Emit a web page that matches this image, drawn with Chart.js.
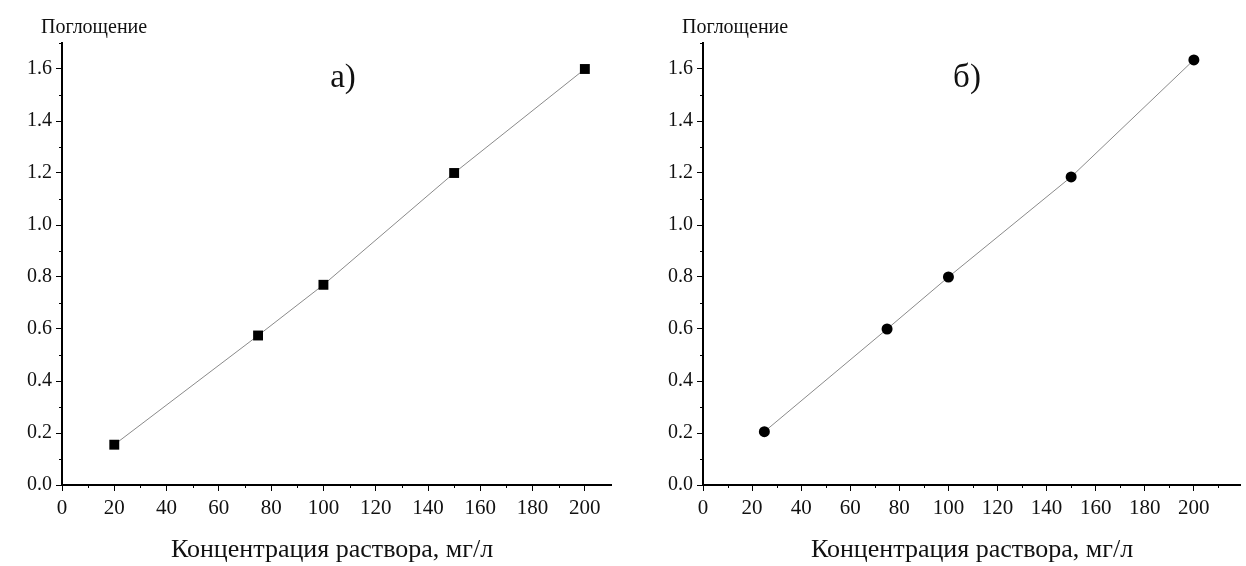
<!DOCTYPE html>
<html>
<head>
<meta charset="utf-8">
<script src="https://cdn.jsdelivr.net/npm/chart.js@4.4.1/dist/chart.umd.min.js"></script>
<style>
  html, body { margin: 0; padding: 0; background: #fff; }
  #wrap { position: relative; width: 1246px; height: 566px; }
  .panel { position: absolute; top: 0; height: 566px; }
  #pa { left: 0; width: 623px; }
  #pb { left: 623px; width: 623px; }
</style>
</head>
<body>
<div id="wrap">
  <div class="panel" id="pa"><canvas id="ca"></canvas></div>
  <div class="panel" id="pb"><canvas id="cb"></canvas></div>
</div>
<script>
// Calibration data: absorbance vs. solution concentration
const concA = [20, 75, 100, 150, 200];
const absA  = [0.155, 0.575, 0.77, 1.2, 1.6];
const concB = [25, 75, 100, 150, 200];
const absB  = [0.205, 0.6, 0.8, 1.185, 1.635];

const panelLabels = ['а)', 'б)'];
const yTitle = 'Поглощение';
const xTitle = 'Концентрация раствора, мг/л';

const SERIF = '"Liberation Serif", "DejaVu Serif", serif';

// Minor ticks, panel letter and axis titles
const decorPlugin = {
  id: 'decor',
  afterDraw(chart, args, opts) {
    const ctx = chart.ctx;
    const { left, right, top, bottom } = chart.chartArea;
    const xs = chart.scales.x, ys = chart.scales.y;
    ctx.save();
    ctx.strokeStyle = '#000';
    ctx.lineWidth = 1;
    // minor y ticks (every 0.1)
    for (let v = 0.1; v < ys.max; v += 0.2) {
      const py = Math.round(ys.getPixelForValue(v)) + 0.5;
      ctx.beginPath(); ctx.moveTo(left - 3, py); ctx.lineTo(left, py); ctx.stroke();
    }
    // minor x ticks (every 10)
    for (let v = 10; v < xs.max; v += 20) {
      const px = Math.round(xs.getPixelForValue(v)) + 0.5;
      ctx.beginPath(); ctx.moveTo(px, bottom); ctx.lineTo(px, bottom + 3); ctx.stroke();
    }
    ctx.fillStyle = '#111';
    // y title above the axis
    ctx.font = '20px ' + SERIF;
    ctx.textAlign = 'left';
    ctx.textBaseline = 'alphabetic';
    ctx.fillText(yTitle, left - 21, 33);
    // x title
    ctx.font = '26px ' + SERIF;
    ctx.textAlign = 'center';
    ctx.fillText(xTitle, opts.xTitleX, 557);
    // panel letter
    ctx.font = '33px ' + SERIF;
    ctx.fillText(opts.letter, opts.letterX, 87);
    ctx.restore();
  }
};

function makeChart(id, xs, ys, marker, radius, xMax, yScaleWidth, padRight, letter, letterX, xTitleX) {
  const pts = xs.map((x, i) => ({ x: x, y: ys[i] }));
  return new Chart(document.getElementById(id), {
    type: 'scatter',
    data: {
      datasets: [{
        data: pts,
        showLine: true,
        borderColor: '#8a8a8a',
        borderWidth: 1,
        pointStyle: marker,
        pointRadius: radius,
        pointBackgroundColor: '#000',
        pointBorderColor: '#000',
        pointBorderWidth: 0
      }]
    },
    options: {
      responsive: true,
      maintainAspectRatio: false,
      animation: false,
      layout: { padding: { top: 43, right: padRight, left: 0, bottom: 0 } },
      plugins: {
        legend: { display: false },
        tooltip: { enabled: false },
        decor: { letter: letter, letterX: letterX, xTitleX: xTitleX }
      },
      scales: {
        x: {
          type: 'linear',
          min: 0, max: xMax,
          afterFit(s) { s.height = 81; },
          border: { color: '#000', width: 2 },
          grid: { drawOnChartArea: false, tickLength: 6, tickColor: '#000', tickWidth: 1 },
          ticks: {
            stepSize: 20, includeBounds: false, maxRotation: 0, autoSkip: false,
            color: '#111', padding: 5,
            font: { family: SERIF, size: 21 }
          }
        },
        y: {
          type: 'linear',
          min: 0, max: 1.7,
          afterFit(s) { s.width = yScaleWidth; },
          border: { color: '#000', width: 2 },
          grid: { drawOnChartArea: false, tickLength: 6, tickColor: '#000', tickWidth: 1 },
          ticks: {
            stepSize: 0.2, includeBounds: false, autoSkip: false,
            color: '#111', padding: 4,
            font: { family: SERIF, size: 20 },
            callback: v => Number(v).toFixed(1)
          }
        }
      }
    },
    plugins: [decorPlugin]
  });
}

makeChart('ca', concA, absA, 'rect', 7, 210, 62, 12, panelLabels[0], 343, 332);
makeChart('cb', concB, absB, 'circle', 5.5, 219, 80, 0, panelLabels[1], 967 - 623, 972 - 623);
</script>
</body>
</html>
